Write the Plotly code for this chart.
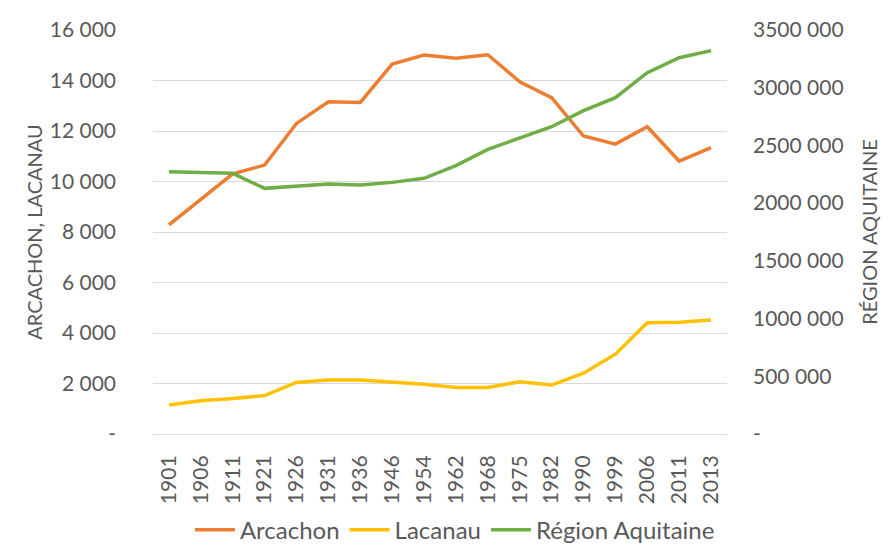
import plotly.graph_objects as go

years = ["1901", "1906", "1911", "1921", "1926", "1931", "1936", "1946", "1954",
         "1962", "1968", "1975", "1982", "1990", "1999", "2006", "2011", "2013"]
arcachon = [8280, 9280, 10300, 10650, 12300, 13160, 13130, 14650, 15010,
            14880, 15020, 13950, 13320, 11800, 11480, 12170, 10810, 11340]
lacanau = [1150, 1320, 1410, 1520, 2040, 2140, 2140, 2060, 1970,
           1840, 1840, 2070, 1940, 2410, 3160, 4410, 4430, 4510]
aquitaine = [2272000, 2265000, 2258000, 2128000, 2148000, 2166000, 2157000, 2180000, 2215000,
             2325000, 2466000, 2561000, 2662000, 2801000, 2914000, 3130000, 3260000, 3321000]

left_vals = [0, 2000, 4000, 6000, 8000, 10000, 12000, 14000, 16000]
left_text = ["-", "2 000", "4 000", "6 000", "8 000", "10 000", "12 000", "14 000", "16 000"]
right_vals = [0, 500000, 1000000, 1500000, 2000000, 2500000, 3000000, 3500000]
right_text = ["-", "500 000", "1000 000", "1500 000", "2000 000", "2500 000", "3000 000", "3500 000"]

FONT = "Lato, 'Open Sans', sans-serif"
GREY = "#595959"

fig = go.Figure()
fig.add_trace(go.Scatter(x=years, y=arcachon, name="Arcachon", mode="lines",
                         line=dict(color="#ED7D31", width=3.5)))
fig.add_trace(go.Scatter(x=years, y=lacanau, name="Lacanau", mode="lines",
                         line=dict(color="#FFC000", width=3.5)))
fig.add_trace(go.Scatter(x=years, y=aquitaine, name="Région Aquitaine", mode="lines",
                         line=dict(color="#70AD47", width=3.5), yaxis="y2"))

fig.update_layout(
    width=885, height=540,
    margin=dict(l=145, r=166, t=22, b=114, autoexpand=False),
    paper_bgcolor="white", plot_bgcolor="white",
    font=dict(family=FONT, size=21, color=GREY),
    xaxis=dict(type="category", range=[-0.5, 17.5], tickangle=-90, automargin=False,
               showgrid=False, showline=True, linecolor="#d9d9d9", linewidth=1,
               ticks="", ticklabelstandoff=12, tickfont=dict(size=21, color=GREY)),
    yaxis=dict(range=[0, 16000], tickvals=left_vals, ticktext=left_text, automargin=False,
               showgrid=True, gridcolor="#d9d9d9", gridwidth=1, zeroline=False,
               ticks="", ticklabelstandoff=36, tickfont=dict(size=21, color=GREY),
               title=dict(text="ARCACHON, LACANAU", font=dict(size=20, color=GREY), standoff=1)),
    yaxis2=dict(range=[0, 3500000], tickvals=right_vals, ticktext=right_text, automargin=False,
                overlaying="y", side="right", showgrid=False, zeroline=False,
                ticks="", ticklabelstandoff=25, tickfont=dict(size=21, color=GREY),
                title=dict(text="RÉGION AQUITAINE", font=dict(size=20, color=GREY), standoff=20)),
    legend=dict(orientation="h", x=0.526, xanchor="center", y=-0.238, yanchor="middle",
                font=dict(size=24, color=GREY), itemwidth=40, tracegroupgap=0),
    showlegend=True,
)

fig.write_html("out.html")
